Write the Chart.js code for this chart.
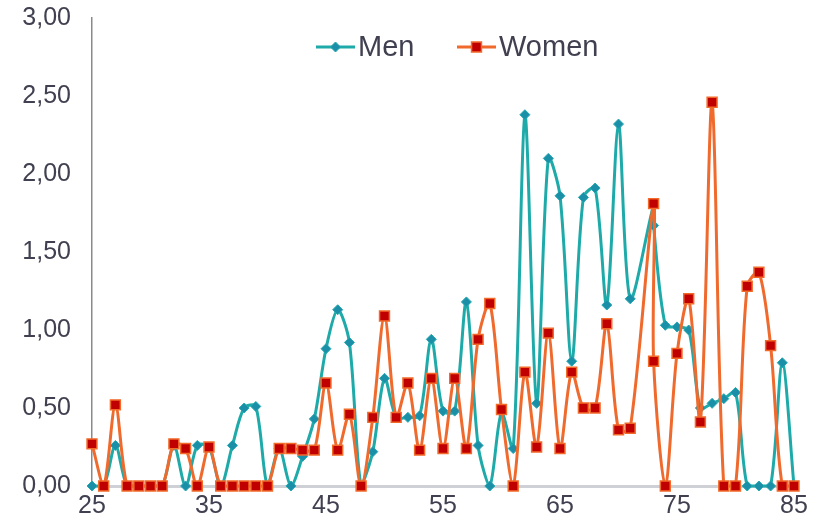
<!DOCTYPE html>
<html>
<head>
<meta charset="utf-8">
<script src="https://cdn.jsdelivr.net/npm/chart.js@4.4.1/dist/chart.umd.min.js"></script>
<style>
  body { margin: 0; background: #fff; }
  #wrap { width: 820px; height: 530px; }
</style>
</head>
<body>
<div id="wrap"><canvas id="chart" width="820" height="530"></canvas></div>
<script>
// ages on the x axis (the source has no 72, and 73 twice)
let ages = [25, 26, 27, 28, 29, 30, 31, 32, 33, 34, 35, 36, 37, 38, 39, 40,
            41, 42, 43, 44, 45, 46, 47, 48, 49, 50, 51, 52, 53, 54, 55, 56,
            57, 58, 59, 60, 61, 62, 63, 64, 65, 66, 67, 68, 69, 70, 71, 73,
            73, 74, 75, 76, 77, 78, 79, 80, 81, 82, 83, 84, 85];

let menValues = [0, 0, 0.26, 0, 0, 0, 0, 0.26, 0, 0.26, 0.25, 0, 0.26, 0.50, 0.51, 0,
                 0.24, 0, 0.19, 0.43, 0.88, 1.13, 0.92, 0, 0.22, 0.69, 0.44, 0.44, 0.45, 0.94, 0.48, 0.48,
                 1.18, 0.26, 0, 0.47, 0.24, 2.38, 0.53, 2.10, 1.86, 0.80, 1.85, 1.91, 1.16, 2.32, 1.20, 1.80,
                 1.67, 1.03, 1.02, 1.00, 0.50, 0.53, 0.56, 0.60, 0, 0, 0, 0.79, 0];

let womenValues = [0.27, 0, 0.52, 0, 0, 0, 0, 0.27, 0.24, 0, 0.25, 0, 0, 0, 0, 0,
                   0.24, 0.24, 0.23, 0.23, 0.66, 0.23, 0.46, 0, 0.44, 1.09, 0.44, 0.66, 0.23, 0.69, 0.24, 0.69,
                   0.24, 0.94, 1.17, 0.49, 0, 0.73, 0.25, 0.98, 0.24, 0.73, 0.50, 0.50, 1.04, 0.36, 0.37, 1.81,
                   0.80, 0, 0.85, 1.20, 0.41, 2.46, 0, 0, 1.28, 1.37, 0.90, 0, 0];

let xTicks = [25, 35, 45, 55, 65, 75, 85];
let yTicks = [0, 0.5, 1, 1.5, 2, 2.5, 3];

const FONT = "'Liberation Sans', Arial, sans-serif";
const TEXT = '#404050';

function toPoints(values) {
    return values.map((v, i) => ({ x: ages[i], y: v }));
}

// Excel style legend: short line with the marker in the middle, then the name
const lineLegend = {
    id: 'lineLegend',
    afterDraw(chart, args, opts) {
        let ctx = chart.ctx;
        ctx.save();
        ctx.font = opts.size + 'px ' + FONT;
        ctx.textBaseline = 'middle';
        chart.data.datasets.forEach((ds, i) => {
            let x = opts.x[i], y = opts.y;
            ctx.strokeStyle = ds.borderColor;
            ctx.lineWidth = ds.borderWidth;
            ctx.beginPath();
            ctx.moveTo(x, y);
            ctx.lineTo(x + opts.lineLength, y);
            ctx.stroke();
            ctx.fillStyle = ds.pointBackgroundColor;
            ctx.strokeStyle = ds.pointBorderColor;
            ctx.lineWidth = ds.pointBorderWidth;
            Chart.helpers.drawPoint(ctx, {
                pointStyle: ds.pointStyle,
                radius: ds.pointRadius,
                borderWidth: ds.pointBorderWidth,
                rotation: 0
            }, x + opts.lineLength / 2, y);
            ctx.fillStyle = TEXT;
            ctx.fillText(ds.label, x + opts.lineLength + 3, y + 1);
        });
        ctx.restore();
    }
};

let ctx = document.getElementById('chart').getContext('2d');
let chart = new Chart(ctx, {
    type: 'line',
    data: {
        datasets: [{
            label: 'Men',
            data: toPoints(menValues),
            borderColor: '#1faaaa',
            borderWidth: 3,
            pointStyle: 'rectRot',
            pointRadius: 5,
            pointBackgroundColor: '#1b8ea8',
            pointBorderColor: '#22a9b0',
            pointBorderWidth: 1,
            tension: 0.3,
            order: 1,
            clip: 10
        }, {
            label: 'Women',
            data: toPoints(womenValues),
            borderColor: '#ef6a2c',
            borderWidth: 3,
            pointStyle: 'rect',
            pointRadius: 7,
            pointBackgroundColor: '#c00000',
            pointBorderColor: '#f26a2a',
            pointBorderWidth: 1.5,
            tension: 0.3,
            order: 0,
            clip: 10
        }]
    },
    options: {
        responsive: false,
        animation: false,
        layout: { padding: { top: 18, right: 26, bottom: 0, left: 0 } },
        scales: {
            x: {
                type: 'linear',
                min: 25,
                max: 85,
                afterFit: s => { s.height = 44; },
                afterBuildTicks: s => { s.ticks = xTicks.map(v => ({ value: v })); },
                grid: { display: false, drawTicks: false },
                border: { color: '#cfcfd6', width: 3 },
                ticks: { font: { size: 25, family: FONT }, color: TEXT, padding: 5, maxRotation: 0, autoSkip: false }
            },
            y: {
                min: 0,
                max: 3,
                afterFit: s => { s.width = 92; },
                afterBuildTicks: s => { s.ticks = yTicks.map(v => ({ value: v })); },
                // tick marks are hidden, their length only keeps the labels away from the axis
                grid: { display: false, drawTicks: true, tickLength: 18 },
                border: { color: '#8a8a8a', width: 1.5 },
                ticks: {
                    font: { size: 25, family: FONT },
                    color: TEXT,
                    padding: 3,
                    callback: v => v.toFixed(2).replace('.', ',')
                }
            }
        },
        plugins: {
            legend: { display: false },
            tooltip: { enabled: false },
            lineLegend: { x: [316, 457], y: 47, lineLength: 39, size: 29 }
        }
    },
    plugins: [lineLegend]
});
</script>
</body>
</html>
